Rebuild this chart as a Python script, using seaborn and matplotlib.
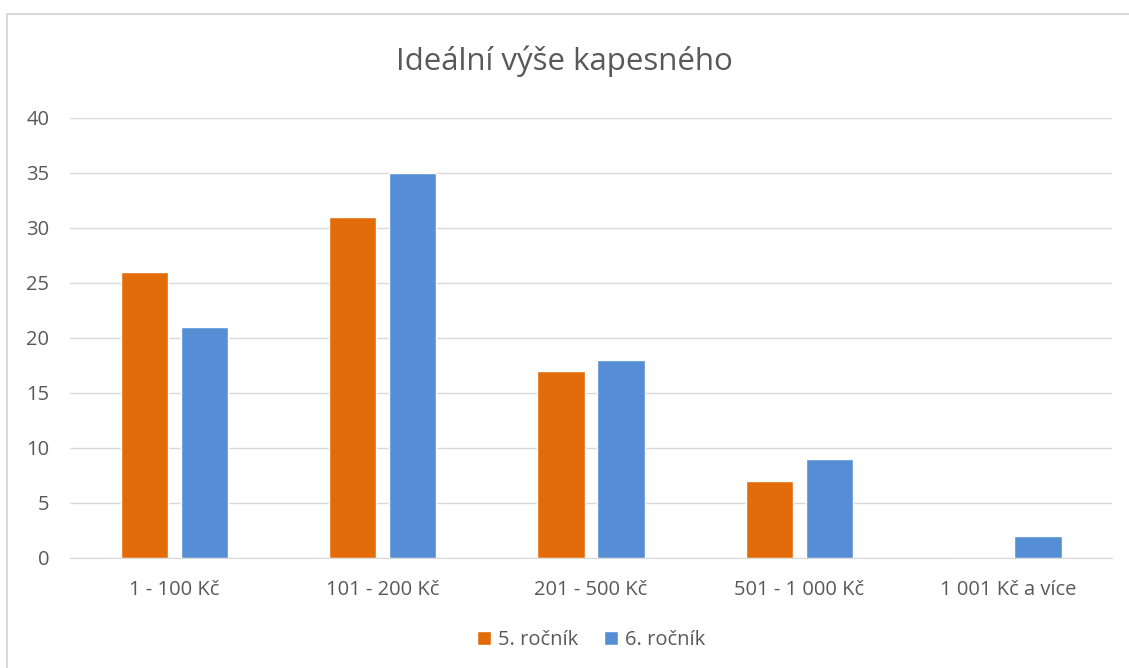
import seaborn as sns
import matplotlib.pyplot as plt
import pandas as pd
from matplotlib.patches import Rectangle

categories = ['1 - 100 Kč', '101 - 200 Kč', '201 - 500 Kč', '501 - 1 000 Kč', '1 001 Kč a více']
rocnik5 = [26, 31, 17, 7, 0]
rocnik6 = [21, 35, 18, 9, 2]
series = ['5. ročník', '6. ročník']
colors = ['#E36C0A', '#558ED5']

df = pd.DataFrame({
    'kategorie': categories * 2,
    'pocet': rocnik5 + rocnik6,
    'rocnik': [series[0]] * 5 + [series[1]] * 5,
})

sns.set_style('white')
plt.rcParams['font.family'] = ['Open Sans', 'DejaVu Sans']

fig = plt.figure(figsize=(11.29, 6.68), dpi=100)
ax = fig.add_axes([0.062, 0.1647, 0.923, 0.6587])

sns.barplot(data=df, x='kategorie', y='pocet', hue='rocnik', palette=colors,
            width=0.577, gap=0.215, saturation=1, ax=ax, legend=True)

ax.set_ylim(0, 40)
ax.set_yticks(range(0, 41, 5))
ax.set_xlim(-0.5, 4.5)
ax.yaxis.grid(True, color='#D9D9D9', linewidth=1)
ax.set_axisbelow(True)
for s in ['top', 'right', 'left']:
    ax.spines[s].set_visible(False)
ax.spines['bottom'].set_color('#D9D9D9')
ax.tick_params(axis='both', length=0, labelsize=14.5, colors='#595959')
ax.tick_params(axis='x', pad=16)
ax.tick_params(axis='y', pad=15)
ax.set_xlabel('')
ax.set_ylabel('')

fig.suptitle('Ideální výše kapesného', y=0.932, fontsize=22.5, color='#595959')

ax.legend(loc='upper center', bbox_to_anchor=(0.5, -0.122), ncol=2, frameon=False,
          fontsize=14.5, labelcolor='#595959', handlelength=0.7, handleheight=0.7,
          handletextpad=0.35, columnspacing=1.3)

# rámeček grafu (jen horní a levá hrana jsou v obrázku vidět)
fig.patches.append(Rectangle((7 / 1129, -0.1), 2, 1.1 - 14 / 668,
                             transform=fig.transFigure, fill=False,
                             edgecolor='#D9D9D9', linewidth=1.5))

fig.savefig('out.png', dpi=100)
